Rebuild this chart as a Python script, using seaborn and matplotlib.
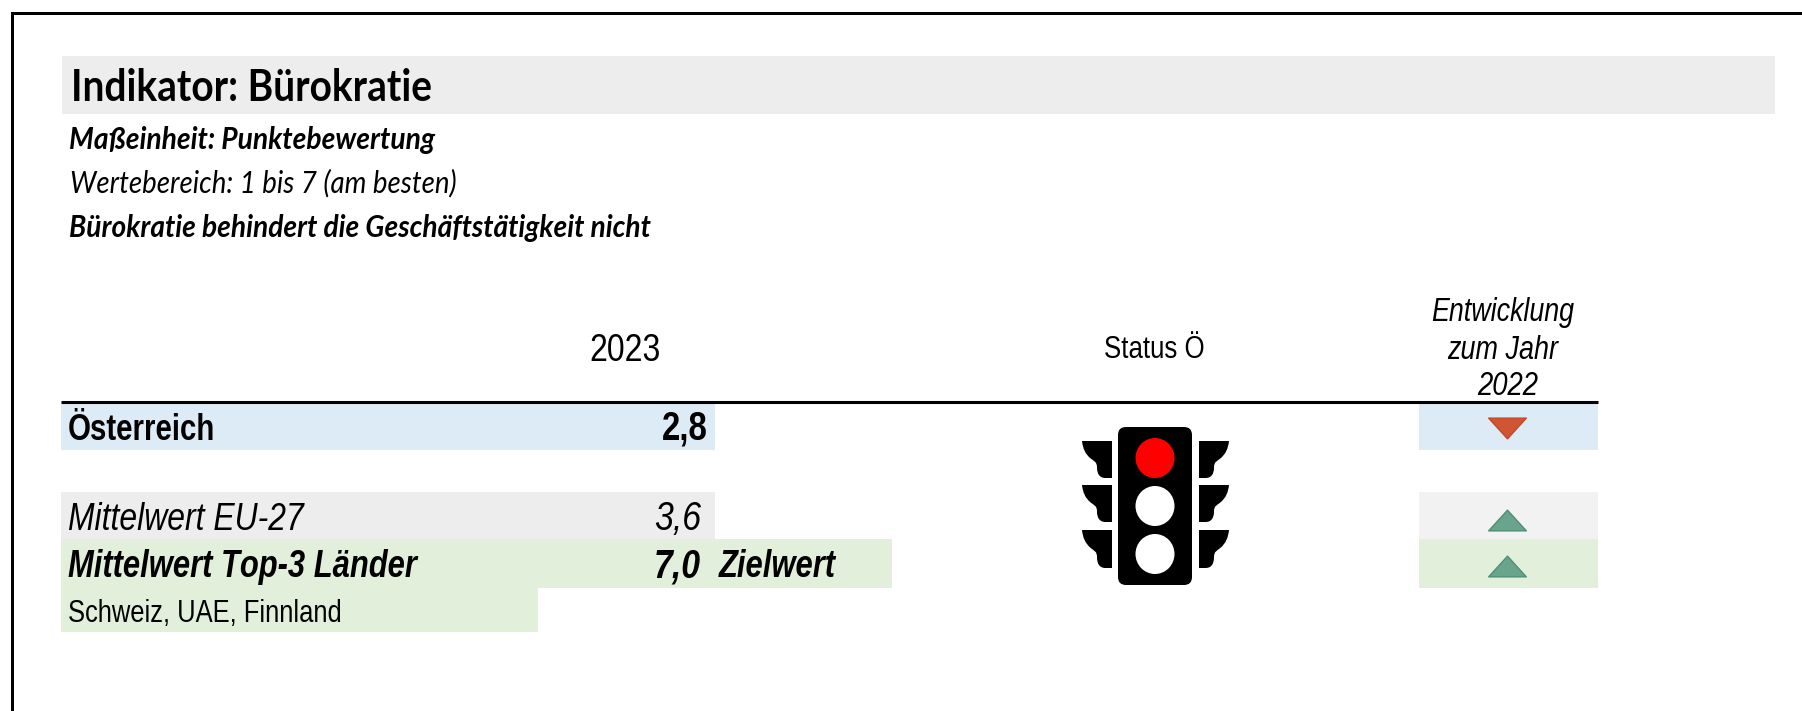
import matplotlib
matplotlib.use("Agg")
import matplotlib.pyplot as plt
from matplotlib import font_manager as fm
from matplotlib.patches import Rectangle, FancyBboxPatch, Ellipse, PathPatch
from matplotlib.path import Path
from fontTools.ttLib import TTFont
import pandas as pd
import seaborn as sns

sns.set_theme(style="white")

# ---- content ----
title = "Indikator: Bürokratie"
unit = "Maßeinheit: Punktebewertung"
value_range = "Wertebereich: 1 bis 7 (am besten)"
statement = "Bürokratie behindert die Geschäftstätigkeit nicht"
year = "2023"
status_head = "Status Ö"
trend_head = ["Entwicklung", "zum Jahr", "2022"]
rows = ["Österreich", "Mittelwert EU-27", "Mittelwert Top-3 Länder"]
values = [2.8, 3.6, 7.0]
trend = ["down", "up", "up"]
target_label = "Zielwert"
top3 = "Schweiz, UAE, Finnland"
light_colors = ["#FF0000", "#FFFFFF", "#FFFFFF"]


def condensed(base, new_family, factor):
    """Write a horizontally narrowed copy of an installed font and register it."""
    ok = False
    for weight in ("normal", "bold"):
        for style in ("normal", "italic"):
            try:
                src = fm.findfont(fm.FontProperties(family=base, weight=weight, style=style),
                                  fallback_to_default=False)
                f = TTFont(src)
                glyf = f["glyf"]
                for name in glyf.keys():
                    g = glyf[name]
                    if g.isComposite():
                        for c in g.components:
                            c.x = round(c.x * factor)
                    elif g.numberOfContours > 0:
                        for i, (x, y) in enumerate(g.coordinates):
                            g.coordinates[i] = (round(x * factor), y)
                        g.program = type(g.program)()
                        g.program.fromBytecode(b"")
                    if g.numberOfContours != 0:
                        g.recalcBounds(glyf)
                hm = f["hmtx"].metrics
                for k, (adv, lsb) in list(hm.items()):
                    hm[k] = (round(adv * factor), round(lsb * factor))
                for tag in ("fpgm", "prep", "cvt ", "hdmx", "VDMX", "LTSH", "GPOS", "GSUB", "GDEF", "kern"):
                    if tag in f:
                        del f[tag]
                for rec in f["name"].names:
                    if rec.nameID in (1, 16):
                        rec.string = new_family
                    elif rec.nameID in (4, 6):
                        rec.string = f"{new_family}-{weight}-{style}".replace(" ", "")
                path = f"{new_family.replace(' ', '')}_{weight}_{style}.ttf"
                f.save(path)
                fm.fontManager.addfont(path)
                ok = True
            except Exception:
                pass
    return ok


CAL = ["Cal Narrow" if condensed("Lato", "Cal Narrow", 0.90) else "Lato", "DejaVu Sans"]
NAR = ["Arial Narrowed" if condensed("Liberation Sans", "Arial Narrowed", 0.82) else "Liberation Sans", "DejaVu Sans"]

fig = plt.figure(figsize=(18.02, 7.11), dpi=100, facecolor="white")
ax = fig.add_axes([0, 0, 1, 1])
ax.set_xlim(0, 1802)
ax.set_ylim(711, 0)
ax.axis("off")
rend = fig.canvas.get_renderer()


def rect(x0, x1, y0, y1, color, z=1):
    ax.add_patch(Rectangle((x0, y0), x1 - x0, y1 - y0, fc=color, ec="none", zorder=z))


def fit(s, x0, x1, base, family, weight="normal", style="normal"):
    """Text whose drawn width equals x1-x0 px, sitting on the baseline."""
    t = ax.text(x0, base, s, family=family, weight=weight, style=style, color="black",
                ha="left", va="baseline", fontsize=20, zorder=5)
    w = t.get_window_extent(rend).width
    t.set_fontsize(20 * (x1 - x0) / w)
    return t


# frame (top + left only, the rest runs off the picture)
ax.plot([11.5, 11.5, 1802], [711, 12.5, 12.5], color="black", lw=2.16, solid_joinstyle="miter", zorder=6)

# bands
rect(62, 1775, 56, 114, "#EDEDED")
rect(61, 715, 404, 450, "#DDEBF7")
rect(1419, 1598, 404, 450, "#DDEBF7")
rect(61, 715, 492, 538.5, "#EDEDED")
rect(1419, 1598, 492, 538.5, "#F2F2F2")
rect(61, 892, 538.5, 588, "#E2EFDA")
rect(1419, 1598, 538.5, 588, "#E2EFDA")
rect(61, 538, 588, 632, "#E2EFDA")
ax.plot([61, 1598], [402, 402], color="black", lw=2.2, solid_capstyle="butt", zorder=4)

# headline block
fit(title, 71, 433, 101, CAL, weight="bold")
fit(unit, 69, 434, 149, CAL, weight="bold", style="italic")
fit(value_range, 70, 457, 192, CAL, style="italic")
fit(statement, 69, 650, 237, CAL, weight="bold", style="italic")

# column heads
fit(year, 589, 660, 361, NAR)
fit(status_head, 1104, 1205, 358, NAR)
for s, (a, b), base in zip(trend_head, [(1431, 1574), (1447, 1558), (1477, 1538)], [321, 359, 395]):
    fit(s, a, b, base, NAR, style="italic")

# rows
fmt = [f"{v:.1f}".replace(".", ",") for v in values]
fit(rows[0], 68, 215, 440, NAR, weight="bold")
fit(fmt[0], 662, 708, 440, NAR, weight="bold")
fit(rows[1], 68, 303, 530, NAR, style="italic")
fit(fmt[1], 654, 701, 530, NAR, style="italic")
fit(rows[2], 68, 417, 577, NAR, weight="bold", style="italic")
fit(fmt[2], 654, 701, 577, NAR, weight="bold", style="italic")
fit(target_label, 719, 836, 577, NAR, weight="bold", style="italic")
fit(top3, 68, 341, 622, NAR)

# traffic light
ax.add_patch(FancyBboxPatch((1118, 427), 74, 158, boxstyle="round,pad=0,rounding_size=8",
                            fc="black", ec="none", zorder=3))
for c, cy in zip(light_colors, [458, 506, 554]):
    ax.add_patch(Ellipse((1155, cy), 39, 40, fc=c, ec="none", zorder=4))

outline = [(0, 0), (1, 0), (1, 1), (.78, 1), (.6, 1), (.5, .9), (.5, .72), (.5, .55), (.4, .55), (.3, .48),
           (.1, .35), (.03, .2), (0, 0), (0, 0)]
codes = [Path.MOVETO, Path.LINETO, Path.LINETO, Path.LINETO, Path.CURVE4, Path.CURVE4, Path.CURVE4,
         Path.CURVE4, Path.CURVE4, Path.CURVE4, Path.CURVE4, Path.CURVE4, Path.CURVE4, Path.CLOSEPOLY]
for y0, y1 in [(441, 478), (485, 522), (530, 568)]:
    for xa, xb in [(1082, 1112), (1229, 1199)]:
        v = [(xa + u * (xb - xa), y0 + w * (y1 - y0)) for u, w in outline]
        ax.add_patch(PathPatch(Path(v, codes), fc="black", ec="none", zorder=3))

# trend arrows, through seaborn
arrows = pd.DataFrame({"x": [1507, 1507, 1507], "y": [428, 519.5, 565.5], "dir": trend})
DOWN = Path([(-1, .55), (1, .55), (0, -.55), (-1, .55)], closed=True)
UP = Path([(-1, -.55), (1, -.55), (0, .55), (-1, -.55)], closed=True)
for key, mk, col, edge in [("down", DOWN, "#D05532", "#C0492A"), ("up", UP, "#68A58C", "#4E8F76")]:
    sns.scatterplot(data=arrows[arrows["dir"] == key], x="x", y="y", marker=mk, s=735,
                    color=col, edgecolor=edge, linewidth=1, ax=ax, legend=False, zorder=5)
ax.set_xlim(0, 1802)
ax.set_ylim(711, 0)
ax.axis("off")

fig.savefig("out.png", dpi=100, facecolor="white")
